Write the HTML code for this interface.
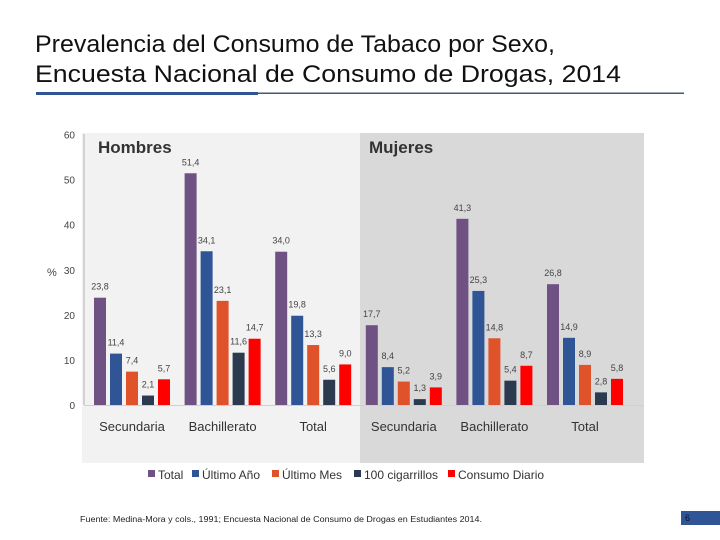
<!DOCTYPE html>
<html><head><meta charset="utf-8"><style>
html,body{margin:0;padding:0;background:#fff;}
svg{display:block;font-family:"Liberation Sans",sans-serif;}
</style></head><body>
<svg width="720" height="540" viewBox="0 0 720 540">
<text x="35" y="52" font-size="24" fill="#111" textLength="520" lengthAdjust="spacingAndGlyphs">Prevalencia del Consumo de Tabaco por Sexo,</text>
<text x="35" y="82" font-size="24" fill="#111" textLength="586" lengthAdjust="spacingAndGlyphs">Encuesta Nacional de Consumo de Drogas, 2014</text>
<rect x="36" y="92.5" width="648" height="1.5" fill="#3e5a7a"/>
<rect x="36" y="92" width="222" height="3" fill="#2f5597"/>
<rect x="82" y="133" width="278" height="330" fill="#f2f2f2"/>
<rect x="360" y="133" width="284" height="330" fill="#d9d9d9"/>
<line x1="84" y1="134" x2="84" y2="405" stroke="#c8c8c8" stroke-width="1.5"/>
<line x1="84" y1="405.5" x2="644" y2="405.5" stroke="#d0d0d0" stroke-width="1"/>
<text x="98" y="153" font-size="17" font-weight="bold" fill="#333">Hombres</text>
<text x="369" y="153" font-size="17" font-weight="bold" fill="#333">Mujeres</text>
<text x="47" y="276" font-size="11" fill="#444">%</text>
<g id="chart"></g>
<g id="legend"></g>
<text x="80" y="522" font-size="8" fill="#222" textLength="402" lengthAdjust="spacingAndGlyphs">Fuente: Medina-Mora y cols., 1991; Encuesta Nacional de Consumo de Drogas en Estudiantes 2014.</text>
<rect x="681" y="511" width="39" height="14" fill="#2f5597"/>
<text x="685" y="521" font-size="9" fill="#111">6</text>
</svg>
<script>
const categories = ["Secundaria","Bachillerato","Total","Secundaria","Bachillerato","Total"];
const seriesNames = ["Total","Último Año","Último Mes","100 cigarrillos","Consumo Diario"];
const totalVals = [23.8,51.4,34.0,17.7,41.3,26.8];
const anioVals = [11.4,34.1,19.8,8.4,25.3,14.9];
const mesVals = [7.4,23.1,13.3,5.2,14.8,8.9];
const cigVals = [2.1,11.6,5.6,1.3,5.4,2.8];
const diarioVals = [5.7,14.7,9.0,3.9,8.7,5.8];
const yTicks = [0,10,20,30,40,50,60];

const colors = ["#6f5283","#2f5597","#e0522a","#2b3a4f","#ff0000"];
const series = [totalVals,anioVals,mesVals,cigVals,diarioVals];
const NS = "http://www.w3.org/2000/svg";
const y0 = 405, yTop = 134.5, yMax = 60;
function yScale(v){ return y0 - v/yMax*(y0-yTop); }
function groupX(i){ return 94 + i*90.6; }
function barX(i,s){ return groupX(i) + s*16; }
const g = document.getElementById('chart');
function mk(tag, attrs){ const e=document.createElementNS(NS,tag); for(const k in attrs) e.setAttribute(k,attrs[k]); return e; }
yTicks.forEach(t=>{
  const e = mk('text',{x:75,y:yScale(t)+4,'font-size':10,fill:'#444','text-anchor':'end'});
  e.textContent = t;
  
  
  g.appendChild(e);
});
categories.forEach((c,i)=>{
  series.forEach((arr,s)=>{
    const v = arr[i];
    const r = mk('rect',{x:barX(i,s),y:yScale(v),width:12,height:y0-yScale(v),fill:colors[s]});
    
    
    g.appendChild(r);
    const l = mk('text',{x:barX(i,s)+6,y:yScale(v)-8,'font-size':9,fill:'#444','text-anchor':'middle'});
    l.textContent = v.toFixed(1).replace('.',',');
    
    
    g.appendChild(l);
  });
  const cl = mk('text',{x:groupX(i)+38,y:431,'font-size':13,fill:'#333','text-anchor':'middle'});
  cl.textContent = c;
  
  
  g.appendChild(cl);
});
const lg = document.getElementById('legend');
const lx = [148,192,272,354,448];
seriesNames.forEach((n,s)=>{
  const r = mk('rect',{x:lx[s],y:470,width:7,height:7,fill:colors[s]});
  
  
  lg.appendChild(r);
  const t = mk('text',{x:lx[s]+10,y:479,'font-size':12,fill:'#333'});
  t.textContent = n;
  
  
  lg.appendChild(t);
});
</script>
</body></html>
